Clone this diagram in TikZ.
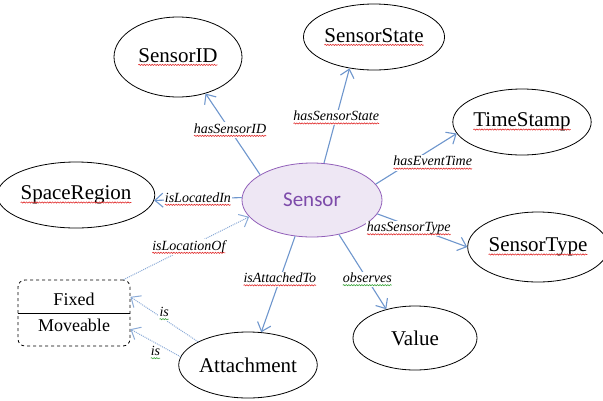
\documentclass[tikz,border=0pt]{standalone}
\usepackage{fontspec}
\setmainfont{Liberation Serif}
\newfontfamily\calibri{Carlito}
\usepackage{tikz}
\usetikzlibrary{arrows.meta, shapes.geometric, decorations.pathmorphing}
\usepackage{xcolor}
\definecolor{linkblue}{RGB}{110,150,205}
\definecolor{sensorfill}{RGB}{238,231,244}
\definecolor{sensorline}{RGB}{145,95,185}
\definecolor{sensortext}{RGB}{125,75,170}
\definecolor{spellred}{RGB}{225,45,45}
\definecolor{spellgreen}{RGB}{60,165,60}

% wavy underline under a word
\newcommand\spell[2]{\tikz[baseline=(w.base)]{\node[rectangle, inner sep=0pt, outer sep=0pt, minimum width=0pt,
    minimum height=0pt, fill=none, draw=none] (w) {#2};
  \draw[-, solid, #1, line width=0.6pt, decorate, decoration={snake, amplitude=0.6pt, segment length=2.6pt}]
    ([yshift=-2.8pt]w.base west) -- ([yshift=-2.8pt]w.base east);}}

\begin{document}
\begin{tikzpicture}[x=1pt, y=-1pt,
  concept/.style={draw, ellipse, thick, inner sep=0pt, font=\fontsize{21}{24}\selectfont},
  arr/.style={-{Straight Barb[length=8pt, width=14pt]}, linkblue, line width=1.1pt},
  darr/.style={-{Straight Barb[length=8pt, width=14pt]}, linkblue!80, line width=1pt, densely dotted},
  lbl/.style={fill=white, text=black, inner sep=1pt, font=\fontsize{14}{16}\itshape\selectfont},
]
  \useasboundingbox (0,0) rectangle (603,400);

  \node[concept, minimum width=140pt, minimum height=74pt, fill=sensorfill, draw=sensorline,
        text=sensortext, font=\calibri\fontsize{21}{24}\selectfont] (sensor) at (312,200) {Sensor};
  \node[concept, minimum width=128pt, minimum height=80pt] (sid) at (178,57) {\spell{spellred}{SensorID}};
  \node[concept, minimum width=128pt, minimum height=66pt] (sstate) at (374,37) {\spell{spellred}{SensorState}};
  \node[concept, minimum width=130pt, minimum height=66pt] (tstamp) at (522,122) {\spell{spellred}{TimeStamp}};
  \node[concept, minimum width=128pt, minimum height=66pt] (sregion) at (76,195) {\spell{spellred}{SpaceRegion}};
  \node[concept, minimum width=130pt, minimum height=70pt] (stype) at (538,247) {\spell{spellred}{SensorType}};
  \node[concept, minimum width=124pt, minimum height=64pt] (value) at (415,338) {Value};
  \node[concept, minimum width=126pt, minimum height=66pt] (attach) at (248,365) {Attachment};

  % Fixed / Moveable box
  \node[draw, dashed, thick, rounded corners=7pt, minimum width=112pt, minimum height=66pt] (fm) at (74,313) {};
  \node[font=\fontsize{18}{20}\selectfont] (fixed) at (74,299) {Fixed};
  \node[font=\fontsize{18}{20}\selectfont] (moveable) at (74,325) {Moveable};
  \draw[thick] (fm.west) -- (fm.east);

  \draw[arr] (sensor.154) -- node[lbl, pos=0.55] {\spell{spellred}{hasSensorID}} (sid.-53);
  \draw[arr] (sensor.72) -- node[lbl, pos=0.48] {\spell{spellred}{hasSensorState}} (sstate.-128);
  \draw[arr] (sensor.14) -- node[lbl, pos=0.42, xshift=23pt] {\spell{spellred}{hasEventTime}} (tstamp.-170);
  \draw[arr] (sensor.178) -- node[lbl, pos=0.5] {\spell{spellred}{isLocatedIn}} (sregion.-4);
  \draw[arr] (sensor.-12) -- node[lbl, pos=0.35, yshift=-3pt] {\spell{spellred}{hasSensorType}} (stype.180);
  \draw[arr] (sensor.-52) -- node[lbl, pos=0.6] {\spell{spellgreen}{observes}} (value.135);
  \draw[arr] (sensor.-115) -- node[lbl, pos=0.45] {\spell{spellred}{isAttachedTo}} (attach.68);

  % dotted links
  \draw[darr] (fm.34) -- node[lbl, pos=0.52] {\spell{spellred}{isLocationOf}} (sensor.-165);
  \draw[darr] (attach.155) -- node[lbl, pos=0.5, above=-2pt] {\spell{spellgreen}{is}} (fm.16);
  \draw[darr] (attach.173) -- node[lbl, pos=0.5, below=2pt, fill=none] {\spell{spellgreen}{is}} (fm.-16);
\end{tikzpicture}
\end{document}
